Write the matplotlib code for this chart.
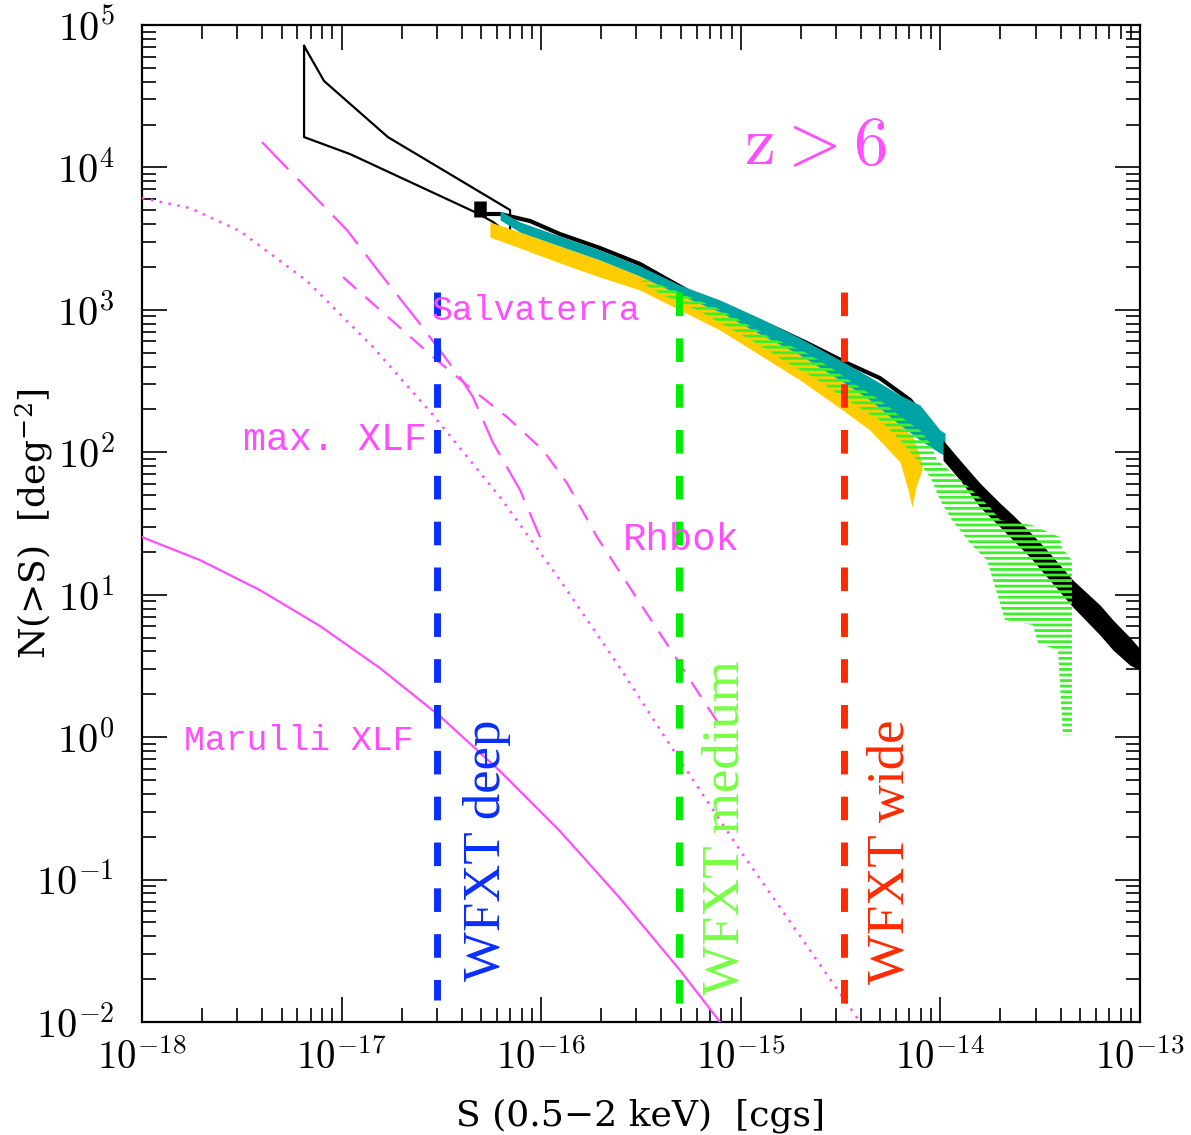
import numpy as np
import matplotlib
matplotlib.use("Agg")
import matplotlib.pyplot as plt

plt.rcParams['hatch.linewidth'] = 2.0

# --- data (log10 S [cgs], log10 N(>S) [deg^-2]) ---

# black outline: deep-field constraint
box_logS = [-17.188, -17.088, -16.768, -16.156, -16.156, -16.241, -16.322, -16.958, -17.188, -17.188]
box_logN = [4.853, 4.607, 4.213, 3.701, 3.525, 3.617, 3.680, 4.094, 4.213, 4.853]

# black logN-logS data (faint end blob + thin upper edge)
blob_logS = [-16.307, -16.307]
blob_logN = [3.764, 3.652]
blk_logS = [-16.292, -16.206, -16.056, -15.906, -15.705, -15.505, -15.255, -15.004,
            -14.839, -14.668, -14.468, -14.303, -14.152, -14.027, -13.987]
blk_logN = [3.673, 3.673, 3.624, 3.532, 3.434, 3.322, 3.125, 2.978,
            2.879, 2.767, 2.626, 2.521, 2.367, 2.156, 2.037]

# black band at bright fluxes
bb_logS = [-13.987, -13.902, -13.802, -13.701, -13.636, -13.551, -13.466, -13.336, -13.200, -13.135, -13.050, -13.000]
bb_hi = [2.086, 1.945, 1.784, 1.643, 1.559, 1.440, 1.313, 1.103, 0.927, 0.822, 0.700, 0.620]
bb_lo = [1.945, 1.805, 1.615, 1.475, 1.383, 1.264, 1.124, 0.913, 0.716, 0.611, 0.505, 0.470]

# teal band
teal_logS = [-16.206, -16.106, -15.906, -15.705, -15.505, -15.305, -15.104, -14.904, -14.703,
             -14.503, -14.353, -14.202, -14.102, -14.002, -13.977]
teal_hi = [3.694, 3.617, 3.518, 3.420, 3.308, 3.174, 3.069, 2.942, 2.802,
           2.647, 2.528, 2.402, 2.331, 2.156, 2.135]
teal_lo = [3.631, 3.546, 3.448, 3.350, 3.237, 3.104, 2.985, 2.830, 2.683,
           2.507, 2.367, 2.191, 2.086, 1.994, 1.980]

# yellow band
yel_logS = [-16.257, -16.106, -15.906, -15.705, -15.505, -15.305, -15.104, -14.904, -14.703,
            -14.503, -14.353, -14.202, -14.162, -14.142, -14.122, -14.092]
yel_hi = [3.617, 3.546, 3.448, 3.350, 3.237, 3.104, 2.985, 2.830, 2.683,
          2.507, 2.367, 2.191, 2.140, 2.120, 2.050, 1.924]
yel_lo = [3.511, 3.434, 3.329, 3.230, 3.139, 2.999, 2.858, 2.683, 2.507,
          2.310, 2.156, 1.931, 1.735, 1.615, 1.763, 1.875]

# green hatched region (outline)
grn_logS = [-15.480, -15.355, -15.255, -15.129, -15.004, -14.854, -14.678, -14.553, -14.428,
            -14.303, -14.177, -14.102, -14.052, -14.017, -13.917, -13.842, -13.752, -13.701,
            -13.541, -13.401, -13.391, -13.341, -13.341,
            -13.386, -13.411, -13.511, -13.536, -13.676, -13.767, -13.852, -13.942, -14.002,
            -14.037, -14.052, -14.117, -14.202, -14.303, -14.388, -14.518, -14.638, -14.789,
            -14.889, -15.039, -15.189, -15.390, -15.505]
grn_logN = [3.209, 3.153, 3.090, 3.020, 2.928, 2.809, 2.704, 2.598, 2.479,
            2.367, 2.226, 2.156, 2.065, 1.945, 1.826, 1.735, 1.615, 1.524,
            1.489, 1.404, 1.327, 1.243, 0.014,
            0.014, 0.611, 0.660, 0.787, 0.822, 1.243, 1.362, 1.524, 1.664,
            1.784, 1.826, 1.945, 2.086, 2.226, 2.296, 2.416, 2.528, 2.647,
            2.739, 2.858, 2.978, 3.104, 3.195]

# model curves
salv_logS = [-17.399, -16.973, -16.808, -16.622, -16.407, -16.342, -16.241, -16.106, -16.006]
salv_logN = [4.178, 3.560, 3.258, 2.928, 2.528, 2.388, 2.065, 1.735, 1.404]

rhook_logS = [-16.993, -16.542, -16.342, -16.171, -15.991, -15.871, -15.720, -15.505, -15.340, -15.189, -15.089]
rhook_logN = [3.230, 2.669, 2.437, 2.247, 2.015, 1.784, 1.404, 0.941, 0.590, 0.260, 0.049]

maxxlf_logS = [-18.000, -17.760, -17.509, -17.173, -16.843, -16.542, -16.206, -15.906, -15.605,
               -15.305, -15.004, -14.703, -14.403]
maxxlf_logN = [3.785, 3.715, 3.553, 3.202, 2.739, 2.261, 1.685, 1.103, 0.485,
               -0.162, -0.794, -1.397, -2.000]

marulli_logS = [-18.000, -17.709, -17.409, -17.108, -16.808, -16.507, -16.206, -15.906, -15.605,
                -15.305, -15.104]
marulli_logN = [1.404, 1.243, 1.032, 0.780, 0.485, 0.147, -0.239, -0.660, -1.131,
                -1.636, -2.000]

# WFXT flux limits: S, N_top, N_bottom
wfxt_names = ['WFXT deep', 'WFXT medium', 'WFXT wide']
wfxt_S = [3.0e-17, 4.9e-16, 3.3e-15]
wfxt_Nhi = [1330, 1330, 1330]
wfxt_Nlo = [0.0142, 0.0102, 0.0131]

xticks_exp = [-18, -17, -16, -15, -14, -13]
yticks_exp = [-2, -1, 0, 1, 2, 3, 4, 5]


def p(a):
    return 10.0 ** np.asarray(a)


MAG = '#ff4dff'

fig = plt.figure(figsize=(11.91, 11.35), dpi=100)
ax = fig.add_axes([0.11923, 0.09956, 0.83795, 0.87841])
ax.set_xscale('log')
ax.set_yscale('log')
ax.set_xlim(1e-18, 1e-13)
ax.set_ylim(1e-2, 1e5)

# data
ax.plot(p(box_logS), p(box_logN), color='black', lw=1.6, zorder=2)
ax.plot(p(blob_logS), p(blob_logN), color='black', lw=9, solid_capstyle='butt', zorder=2)
ax.plot(p(blk_logS), p(blk_logN), color='black', lw=3, solid_joinstyle='round', zorder=2)
ax.fill_between(p(yel_logS), p(yel_lo), p(yel_hi), color='#ffcc00', lw=0, zorder=2.2)
ax.fill_between(p(teal_logS), p(teal_lo), p(teal_hi), color='#00a3a3', lw=0, zorder=2.4)
ax.fill_between(p(bb_logS), p(bb_lo), p(bb_hi), color='black', lw=0, zorder=2.4)
ax.fill(p(grn_logS), p(grn_logN), facecolor='none', edgecolor='#3ef02a', hatch='---', lw=0, zorder=3)

# models
ax.plot(p(salv_logS), p(salv_logN), color=MAG, lw=1.6, dashes=(17, 6), zorder=3)
ax.plot(p(rhook_logS), p(rhook_logN), color=MAG, lw=1.6, dashes=(8, 5.5), zorder=3)
ax.plot(p(maxxlf_logS), p(maxxlf_logN), color=MAG, lw=1.8, dashes=(1, 2.6), zorder=3)
ax.plot(p(marulli_logS), p(marulli_logN), color=MAG, lw=1.6, zorder=3)

# survey limits (drawn from the top so the dash pattern starts there)
wfxt_cols = ['#0a2eff', '#00ee00', '#ff2a00']
for s, hi, lo, c in zip(wfxt_S, wfxt_Nhi, wfxt_Nlo, wfxt_cols):
    ax.plot([s, s], [hi, lo], color=c, lw=5, dashes=(3.4, 3.2), zorder=4)

# labels in the panel
ax.text(2.36e-15, 1.44e4, r'$\mathrm{z>6}$', color=MAG, fontsize=50,
        math_fontfamily='cm', ha='center', va='center', zorder=5)
mono = dict(family='Liberation Mono', color=MAG, ha='left', va='center', zorder=5)
ax.text(2.84e-17, 982, 'Salvaterra', fontsize=25, **mono)
ax.text(3.21e-18, 122, 'max. XLF', fontsize=27.5, **mono)
ax.text(2.57e-16, 24.2, 'Rhbok', fontsize=28, **mono)
ax.text(1.62e-18, 0.953, 'Marulli XLF', fontsize=25, **mono)

wfxt_txt_pos = [(5.35e-17, 0.161), (8.34e-16, 0.230), (5.66e-15, 0.156)]
wfxt_txt_col = ['#0a2eff', '#77ff44', '#ff2a00']
for name, (x, y), c in zip(wfxt_names, wfxt_txt_pos, wfxt_txt_col):
    ax.text(x, y, name, family='Liberation Serif', fontsize=38, color=c,
            rotation=90, ha='center', va='center', zorder=5)

# axes cosmetics
for sp in ax.spines.values():
    sp.set_linewidth(1.6)
ax.tick_params(which='both', direction='in', top=True, right=True, width=1.2)
ax.tick_params(which='major', length=18)
ax.tick_params(which='minor', length=10)
ax.tick_params(axis='x', which='major', pad=12)
ax.tick_params(axis='y', which='major', pad=20)

ax.set_xticks(p(xticks_exp))
ax.set_xticklabels([r'$10^{%d}$' % e for e in xticks_exp])
for t in ax.get_xticklabels():
    t.set_math_fontfamily('cm')
    t.set_fontsize(28)

ax.set_yticks(p(yticks_exp))
ax.set_yticklabels([r'$10^{%d}$' % e for e in yticks_exp])
for t in ax.get_yticklabels():
    t.set_math_fontfamily('cm')
    t.set_fontsize(29)

ax.set_xlabel('S (0.5\u22122 keV)  [cgs]', family='DejaVu Serif', fontsize=26)
ax.set_ylabel(r'N(>S)  [deg$^{-2}$]', family='DejaVu Serif', fontsize=26,
              math_fontfamily='dejavuserif')
ax.xaxis.label.set_va('baseline')
ax.xaxis.set_label_coords(0.5, -0.104)
ax.yaxis.set_label_coords(-0.087, 0.5)

fig.savefig('out.png', dpi=100)
